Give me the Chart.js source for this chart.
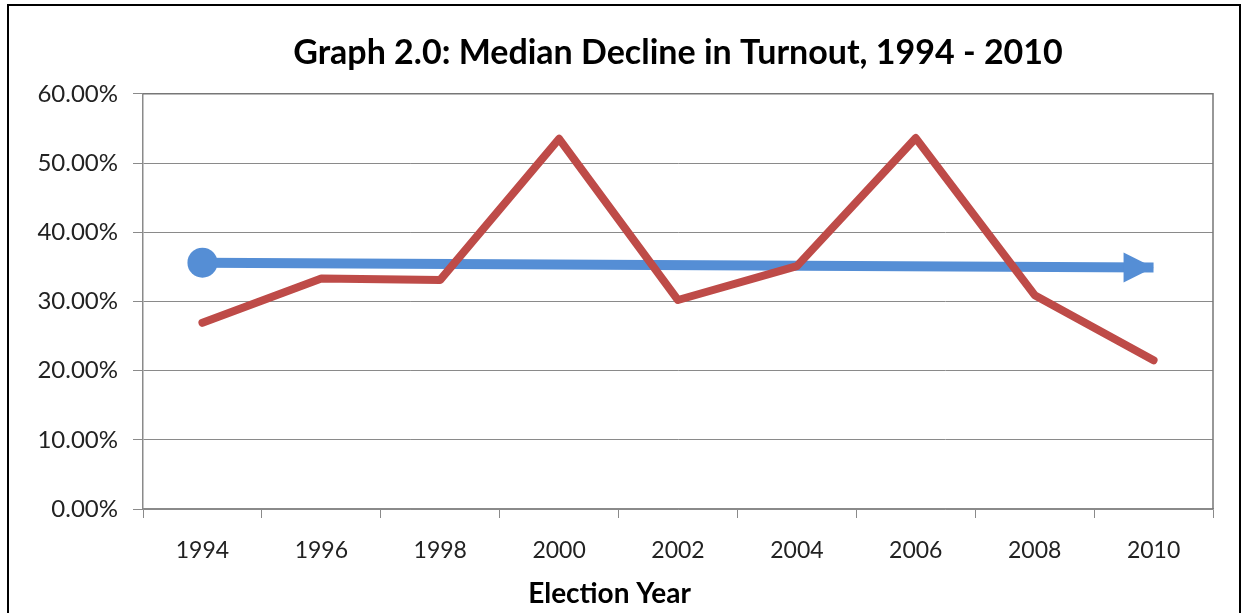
<!DOCTYPE html>
<html>
<head>
<meta charset="utf-8">
<script src="https://cdn.jsdelivr.net/npm/chart.js@4.4.0/dist/chart.umd.min.js"></script>
<style>
  html, body { margin: 0; padding: 0; background: #fff; overflow: hidden; }
  #frame {
    position: absolute; left: 7px; top: 4px; width: 1234px; height: 640px;
    border: 2px solid #000; box-sizing: border-box;
  }
  #chart { position: absolute; left: 0; top: 0; }
</style>
</head>
<body>
<div id="frame"></div>
<canvas id="chart" width="1243" height="613"></canvas>
<script>
const YEARS = ['1994', '1996', '1998', '2000', '2002', '2004', '2006', '2008', '2010'];
// median decline in turnout (%)
const TURNOUT = [26.9, 33.3, 33.1, 53.5, 30.2, 35.1, 53.6, 30.9, 21.5];
// trend arrow: only start and end are drawn
const TREND = [35.6, null, null, null, null, null, null, null, 34.9];

const Y_TICKS = [0, 10, 20, 30, 40, 50, 60];
const X_TITLE = 'Election Year';

const RED = '#be4b48';
const BLUE = '#558ed5';
const GRID = '#8a8a8a';
const FONT = 'Lato, "Open Sans", sans-serif';

// box around the plot area (top/right edges)
const plotBorder = {
  id: 'plotBorder',
  beforeDatasetsDraw(chart) {
    const { ctx, chartArea: a } = chart;
    ctx.save();
    ctx.strokeStyle = '#777';
    ctx.lineWidth = 1.5;
    ctx.beginPath();
    ctx.moveTo(a.left, a.top);
    ctx.lineTo(a.right, a.top);
    ctx.lineTo(a.right, a.bottom);
    ctx.stroke();
    ctx.restore();
  }
};

// arrow head at the end of the trend line
const arrowHead = {
  id: 'arrowHead',
  afterDatasetsDraw(chart) {
    const meta = chart.getDatasetMeta(1);
    const p = meta.data[meta.data.length - 1];
    if (!p) return;
    const { ctx } = chart;
    ctx.save();
    ctx.fillStyle = BLUE;
    ctx.beginPath();
    ctx.moveTo(p.x, p.y);
    ctx.lineTo(p.x - 30, p.y - 15);
    ctx.lineTo(p.x - 30, p.y + 15);
    ctx.closePath();
    ctx.fill();
    ctx.restore();
  }
};

// x axis title sits a bit left of the plot centre in the original
const xTitle = {
  id: 'xTitle',
  afterDraw(chart) {
    const { ctx, chartArea: a } = chart;
    ctx.save();
    ctx.fillStyle = '#000';
    ctx.font = `bold 28px ${FONT}`;
    ctx.textAlign = 'center';
    ctx.textBaseline = 'middle';
    ctx.fillText(X_TITLE, a.left + (a.right - a.left) * 0.436, a.bottom + 85);
    ctx.restore();
  }
};

new Chart(document.getElementById('chart'), {
  type: 'line',
  data: {
    labels: YEARS,
    datasets: [
      {
        data: TURNOUT,
        borderColor: RED,
        borderWidth: 8,
        borderCapStyle: 'round',
        borderJoinStyle: 'round',
        pointRadius: 0,
        tension: 0
      },
      {
        data: TREND,
        borderColor: BLUE,
        backgroundColor: BLUE,
        borderWidth: 10,
        spanGaps: true,
        pointRadius: c => c.dataIndex === 0 ? 15 : 0,
        pointBorderWidth: 0,
        pointHoverRadius: 0,
        tension: 0
      }
    ]
  },
  options: {
    responsive: false,
    animation: false,
    layout: { padding: { left: 0, right: 30, top: 0, bottom: 0 } },
    plugins: {
      legend: { display: false },
      tooltip: { enabled: false },
      title: {
        display: true,
        fullSize: false,
        text: 'Graph 2.0: Median Decline in Turnout, 1994 - 2010',
        color: '#000',
        font: { family: FONT, size: 34, weight: 'bold' },
        padding: { top: 33, bottom: 20 }
      }
    },
    scales: {
      x: {
        offset: true,
        grid: {
          offset: true,
          drawOnChartArea: false,
          color: GRID,
          tickLength: 9
        },
        border: { color: GRID, width: 1.5 },
        ticks: {
          color: '#222',
          padding: 19,
          font: { family: FONT, size: 23 }
        },
        afterFit: s => { s.height = 104; }
      },
      y: {
        min: 0,
        max: 60,
        afterBuildTicks: s => { s.ticks = Y_TICKS.map(v => ({ value: v })); },
        grid: { color: GRID, lineWidth: 1, tickLength: 10 },
        border: { color: GRID, width: 1.5 },
        ticks: {
          color: '#222',
          padding: 15,
          font: { family: FONT, size: 24 },
          callback: v => v.toFixed(2) + '%'
        },
        afterFit: s => { s.width = 143; }
      }
    }
  },
  plugins: [plotBorder, arrowHead, xTitle]
});
</script>
</body>
</html>
